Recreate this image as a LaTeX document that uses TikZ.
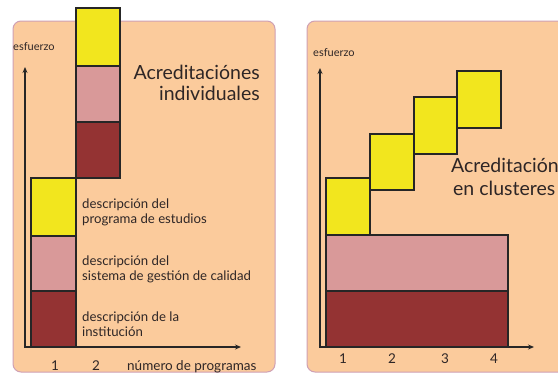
\documentclass[tikz,border=0pt]{standalone}
\usepackage{fontspec}
\setmainfont{Lato}
\usetikzlibrary{arrows.meta}
\definecolor{peach}{HTML}{FBCB9C}
\definecolor{panelborder}{HTML}{CFA0B4}
\definecolor{yel}{HTML}{F2E61E}
\definecolor{pnk}{HTML}{D99999}
\definecolor{dred}{HTML}{943333}
\definecolor{txt}{HTML}{2E2626}
\begin{document}
\begin{tikzpicture}[x=1pt,y=-1pt,
  panel/.style={rounded corners=8pt, fill=peach, draw=panelborder, line width=1pt},
  bar/.style={draw=black!85, line width=1.2pt, inner sep=0pt, outer sep=0pt, anchor=north west},
  axis/.style={draw=black!85, line width=1.3pt, {Stealth[length=6pt,width=5pt]}-{Stealth[length=6pt,width=5pt]}},
  small/.style={text=txt, font=\fontsize{13.2}{15}\selectfont, inner sep=0pt},
  axlab/.style={text=txt, font=\fontsize{13.5}{15}\selectfont, inner sep=0pt},
  tiny/.style={text=txt, font=\fontsize{11}{13}\selectfont, inner sep=0pt},
  title/.style={text=txt, font=\fontsize{19.5}{22}\selectfont, inner sep=0pt}]
\useasboundingbox (0,0) rectangle (558,375);
\clip (0,0) rectangle (558,375);
\fill[white] (0,0) rectangle (558,375);
% panels
\draw[panel] (13,21) rectangle (275,372);
\draw[panel] (307,21) rectangle (590,372);
% left axes
\coordinate (lo) at (25,347);
\coordinate (ltop) at (25,67);
\coordinate (lright) at (241,347);
% left column 1
\node[bar, fill=dred, minimum width=45, minimum height=56] (l1r) at (31,291) {};
\node[bar, fill=pnk, minimum width=45, minimum height=55] (l1p) at (31,236) {};
\node[bar, fill=yel, minimum width=45, minimum height=58] (l1y) at (31,178) {};
% left column 2
\node[bar, fill=dred, minimum width=44, minimum height=56] (l2r) at (76,122) {};
\node[bar, fill=pnk, minimum width=44, minimum height=56] (l2p) at (76,66) {};
\node[bar, fill=yel, minimum width=44, minimum height=58] (l2y) at (76,8) {};
\draw[axis] (ltop) -- (lo) -- (lright);
% left texts
\node[tiny, anchor=base west] (lesf) at (13,50) {esfuerzo};
\node[title, anchor=base east] (lt1) at (260,79) {Acreditaciónes};
\node[title, anchor=base east] (lt2) at (260,100) {individuales};
\node[small, anchor=base west] (d1a) at (82,208) {descripción del};
\node[small, anchor=base west] (d1b) at (82,223) {programa de estudios};
\node[small, anchor=base west] (d2a) at (82,265) {descripción del};
\node[small, anchor=base west] (d2b) at (82,280) {sistema de gestión de calidad};
\node[small, anchor=base west] (d3a) at (82,321) {descripción de la};
\node[small, anchor=base west] (d3b) at (82,336) {institución};
\node[axlab, anchor=base] (lx1) at (55,370) {1};
\node[axlab, anchor=base] (lx2) at (96,370) {2};
\node[axlab, anchor=base west] (lxl) at (127,370) {número de programas};
% right axes
\coordinate (ro) at (320,347);
\coordinate (rtop) at (320,68);
\coordinate (rright) at (534,347);
\node[bar, fill=dred, minimum width=182, minimum height=56] (rr) at (326,291) {};
\node[bar, fill=pnk, minimum width=182, minimum height=56] (rp) at (326,235) {};
\node[bar, fill=yel, minimum width=44, minimum height=57] (ry1) at (326,178) {};
\node[bar, fill=yel, minimum width=44, minimum height=56] (ry2) at (370,134) {};
\node[bar, fill=yel, minimum width=43, minimum height=57] (ry3) at (414,97) {};
\node[bar, fill=yel, minimum width=44, minimum height=57] (ry4) at (457,71) {};
\draw[axis] (rtop) -- (ro) -- (rright);
\node[tiny, anchor=base west] (resf) at (313,56) {esfuerzo};
\node[title, anchor=base west] (rt1) at (451,172) {Acreditación};
\node[title, anchor=base west] (rt2) at (453,195) {en clusteres};
\node[axlab, anchor=base] (rx1) at (343,363) {1};
\node[axlab, anchor=base] (rx2) at (392,363) {2};
\node[axlab, anchor=base] (rx3) at (445,363) {3};
\node[axlab, anchor=base] (rx4) at (494,363) {4};
\end{tikzpicture}
\end{document}
